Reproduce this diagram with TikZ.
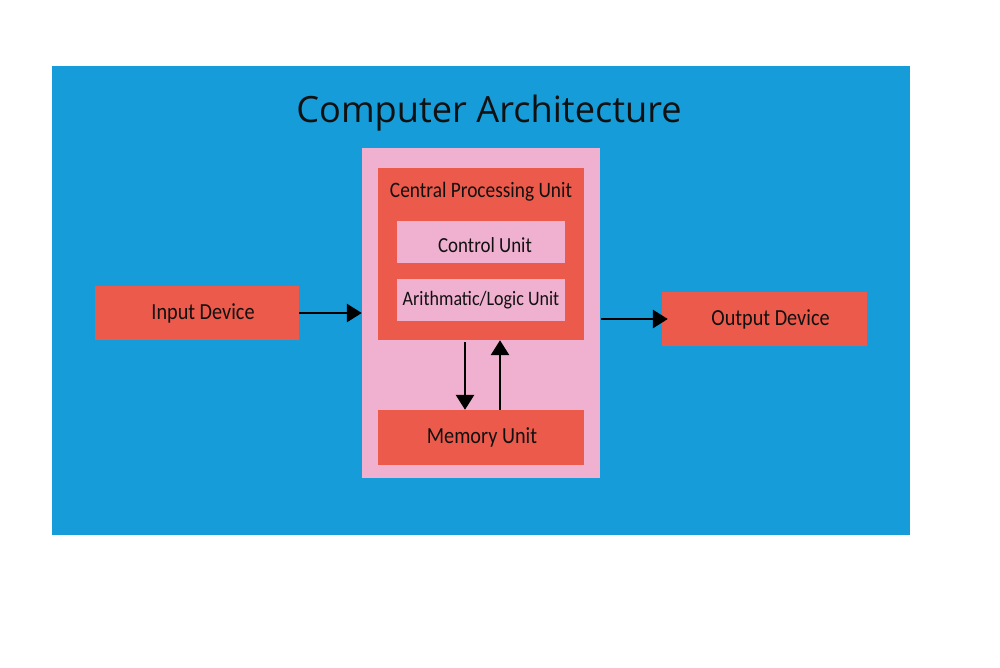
\documentclass[tikz,border=0pt]{standalone}
\usepackage{fontspec}
\setmainfont{Carlito}[FakeStretch=0.88]
\newfontfamily\titlefont{Open Sans}
\usetikzlibrary{arrows.meta}
\definecolor{bgblue}{RGB}{22,156,216}
\definecolor{boxpink}{RGB}{240,176,208}
\definecolor{boxred}{RGB}{235,90,75}
\definecolor{ink}{RGB}{17,17,17}
\tikzset{
  redbox/.style={draw=none, fill=boxred, inner sep=0pt, text=ink, font=\fontsize{23}{26}\selectfont},
  pinkbox/.style={draw=none, fill=boxpink, inner sep=0pt, text=ink, font=\fontsize{21.5}{24}\selectfont},
  arr/.style={draw=black, line width=2.9pt, -{Triangle[length=15pt,width=18pt]}},
  lbl/.style={inner sep=0pt, text=ink}
}
\begin{document}
\begin{tikzpicture}[x=1pt,y=-1pt]
\useasboundingbox (0,0) rectangle (1000,667);
\fill[white] (0,0) rectangle (1000,667);
\fill[bgblue] (52,66) rectangle (910,535);
\node[lbl, font=\titlefont\fontsize{36.2}{40}\selectfont] (title) at (489,113) {Computer Architecture};
\node[pinkbox, minimum width=238pt, minimum height=330pt] (cpuouter) at (481,313) {};
\node[redbox, minimum width=206pt, minimum height=172pt] (cpured) at (481,254) {};
\node[lbl, font=\fontsize{22}{25}\selectfont] (cpulabel) at (481,191.5) {Central Processing Unit};
\node[pinkbox, minimum width=168pt, minimum height=42pt] (cu) at (481,242) {};
\node[lbl, font=\fontsize{21.5}{24}\selectfont] (culabel) at (485,245) {Control Unit};
\node[pinkbox, minimum width=168pt, minimum height=42pt, font=\fontsize{20.5}{23}\selectfont] (alu) at (481,300) {Arithmatic/Logic Unit};
\node[redbox, minimum width=206pt, minimum height=55pt] (mem) at (481,437.5) {\hspace*{2pt}Memory Unit};
\node[redbox, minimum width=204pt, minimum height=54pt] (input) at (197,313) {\hspace*{12pt}Input Device};
\node[redbox, minimum width=205pt, minimum height=54pt] (output) at (764.5,319) {\hspace*{12pt}Output Device};
\coordinate (dx) at (465,0);
\coordinate (ux) at (500,0);
\coordinate (ostart) at (601,319);
\draw[arr] (input.east) -- (cpuouter.west);
\draw[arr, shorten >=-6pt] (ostart) -- (output.west);
\draw[arr] (cpured.south -| dx) ++(0,2) -- (mem.north -| dx);
\draw[arr] (mem.north -| ux) -- (cpured.south -| ux);
\end{tikzpicture}
\end{document}
